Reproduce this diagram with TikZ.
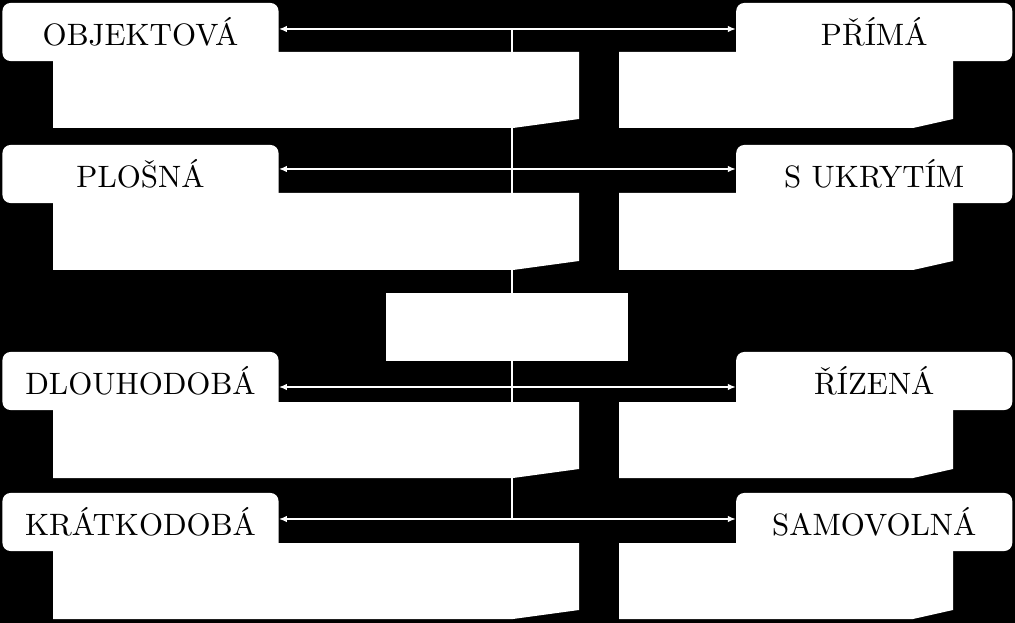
\documentclass[tikz,border=0pt]{standalone}
\usepackage{fontspec}
\newfontfamily\tabfont[Extension=.otf]{lmroman10-regular}
\usepackage{tikz}
\usetikzlibrary{positioning, arrows.meta}

\begin{document}
\begin{tikzpicture}[
x=0.025cm, y=-0.025cm,
node distance=11.425cm,
tab/.style={rectangle, fill=white, rounded corners=0.2cm, minimum width=6.9cm, minimum height=1.45cm, inner sep=0pt, font=\tabfont\fontsize{22}{24}\selectfont},
core/.style={rectangle, fill=white, minimum width=6.05cm, minimum height=1.7cm},
body/.style={fill=white},
biarrow/.style={{Latex[length=2mm,width=1.6mm]}-{Latex[length=2mm,width=1.6mm]}, white, line width=1.4pt},
spine/.style={white, line width=1.4pt}
]

% background
\fill[black] (0,0) rectangle (1015,623);

% vertical line
\coordinate (spine_top) at (512,29);
\coordinate (spine_bot) at (512,519);
\draw[spine] (spine_top) -- (spine_bot);

% bodies under the tabs
\foreach \top/\bot in {52/128, 193/270, 402/478, 543/619} {
  \fill[body] (53,\top) -- (579,\top) -- (579,\bot-9) -- (513,\bot) -- (53,\bot) -- cycle;
  \fill[body] (619,\top) -- (953,\top) -- (953,\bot-9) -- (913,\bot) -- (619,\bot) -- cycle;
}

\node[tab] (tab_objektova) at (140.5,32) {OBJEKTOVÁ};
\node[tab, right=of tab_objektova] (tab_prima) {PŘÍMÁ};
\node[tab] (tab_plosna) at (140.5,174) {PLOŠNÁ};
\node[tab, right=of tab_plosna] (tab_ukryti) {S UKRYTÍM};
\node[tab] (tab_dlouho) at (140.5,381) {DLOUHODOBÁ};
\node[tab, right=of tab_dlouho] (tab_rizena) {ŘÍZENÁ};
\node[tab] (tab_kratko) at (140.5,522) {KRÁTKODOBÁ};
\node[tab, right=of tab_kratko] (tab_samo) {SAMOVOLNÁ};

\node[core] (stred) at (507,327) {};

\draw[biarrow] ([yshift=0.075cm]tab_objektova.east) -- ([yshift=0.075cm]tab_prima.west);
\draw[biarrow] ([yshift=0.125cm]tab_plosna.east) -- ([yshift=0.125cm]tab_ukryti.west);
\draw[biarrow] ([yshift=-0.15cm]tab_dlouho.east) -- ([yshift=-0.15cm]tab_rizena.west);
\draw[biarrow] ([yshift=0.075cm]tab_kratko.east) -- ([yshift=0.075cm]tab_samo.west);

\end{tikzpicture}
\end{document}
